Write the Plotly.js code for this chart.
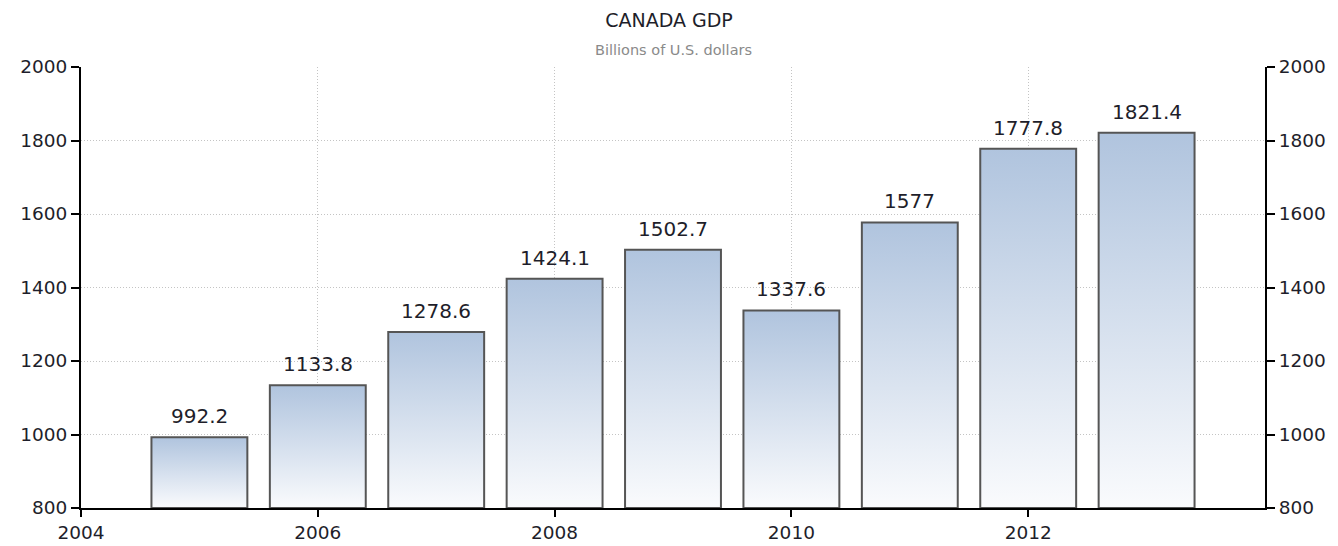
<!DOCTYPE html>
<html>
<head>
<meta charset="utf-8">
<script src="https://cdn.plot.ly/plotly-3.0.1.min.js"></script>
<style>html,body{margin:0;padding:0;background:#fff;}#chart{width:1338px;height:546px;}</style>
</head>
<body>
<div id="chart"></div>
<script>
var years = [2005, 2006, 2007, 2008, 2009, 2010, 2011, 2012, 2013];
var gdp = [992.2, 1133.8, 1278.6, 1424.1, 1502.7, 1337.6, 1577, 1777.8, 1821.4];
var labels = ['992.2', '1133.8', '1278.6', '1424.1', '1502.7', '1337.6', '1577', '1777.8', '1821.4'];
var xTicks = [2004, 2006, 2008, 2010, 2012];
var yTicks = [800, 1000, 1200, 1400, 1600, 1800, 2000];
var yBase = 800;
var barWidth = 0.81;

var FONT = 'DejaVu Sans';
var traces = [];
years.forEach(function (yr, i) {
  var h = barWidth / 2;
  traces.push({
    type: 'scatter', mode: 'none', xaxis: 'x', yaxis: 'y',
    x: [yr - h, yr - h, yr + h, yr + h, yr - h],
    y: [yBase, gdp[i], gdp[i], yBase, yBase],
    fill: 'toself',
    fillgradient: { type: 'vertical', colorscale: [[0, '#fafbfd'], [1, '#b0c4de']] },
    hoverinfo: 'skip', showlegend: false
  });
});
traces.push({
  type: 'bar', x: years, y: gdp.map(function (v) { return v - yBase; }), base: yBase,
  xaxis: 'x', yaxis: 'y2', width: barWidth,
  marker: { color: 'rgba(0,0,0,0)', line: { color: '#555555', width: 2 } },
  showlegend: false, hoverinfo: 'skip'
});

var annotations = years.map(function (yr, i) {
  return {
    x: yr, y: gdp[i], xref: 'x', yref: 'y', text: labels[i], showarrow: false,
    yanchor: 'bottom', yshift: 7, font: { family: FONT, size: 20, color: '#1e1e2a' }
  };
});
annotations.push({
  xref: 'paper', yref: 'paper', x: 0.5, y: 1, yshift: 17, yanchor: 'middle',
  text: 'Billions of U.S. dollars', showarrow: false,
  font: { family: FONT, size: 14.5, color: '#8a8a8a' }
});

var yax = {
  range: [800, 2000], tickvals: yTicks,
  showline: true, linecolor: '#000', linewidth: 2,
  ticks: 'outside', ticklen: 8, tickwidth: 2, tickcolor: '#000',
  tickfont: { family: FONT, size: 18.5, color: '#1e1e2a' },
  showgrid: true, gridcolor: '#c4c4c4', griddash: '1px,2px', gridwidth: 1,
  zeroline: false, fixedrange: true
};
var yax2 = Object.assign({}, yax, {
  overlaying: 'y', side: 'right', anchor: 'x', showgrid: false
});

var layout = {
  width: 1338, height: 546,
  margin: { l: 81, r: 73, t: 67, b: 38 },
  paper_bgcolor: '#fff', plot_bgcolor: '#fff',
  title: { text: 'CANADA GDP', x: 0.5, xanchor: 'center', y: 0.963, yanchor: 'middle',
           font: { family: FONT, size: 19, color: '#1e1e2a' } },
  xaxis: {
    range: [2004, 2014], tickvals: xTicks,
    showline: true, linecolor: '#000', linewidth: 2,
    ticks: 'outside', ticklen: 7, tickwidth: 2, tickcolor: '#000',
    tickfont: { family: FONT, size: 18.5, color: '#1e1e2a' },
    showgrid: true, gridcolor: '#c4c4c4', griddash: '1px,2px', gridwidth: 1,
    zeroline: false, fixedrange: true
  },
  yaxis: yax,
  yaxis2: yax2,
  annotations: annotations,
  showlegend: false
};

Plotly.newPlot('chart', traces, layout, { displayModeBar: false, staticPlot: true });
</script>
</body>
</html>
